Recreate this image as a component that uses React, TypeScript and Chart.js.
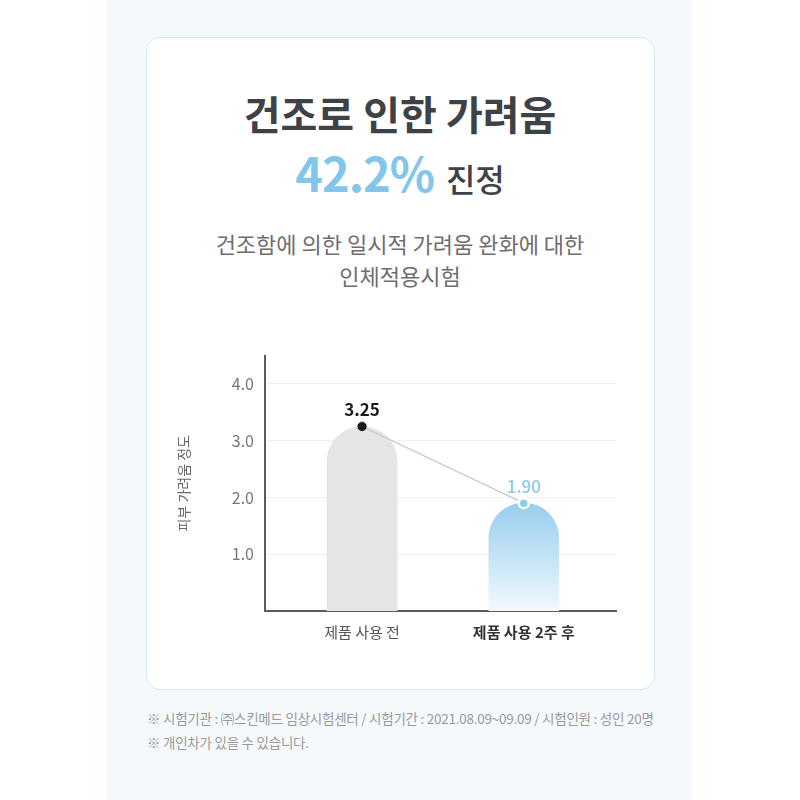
import React, { useEffect, useRef } from "react";
import { Chart, registerables } from "chart.js";

Chart.register(...registerables);

const categories = ["제품 사용 전", "제품 사용 2주 후"];
const scores = [3.25, 1.9];
const scoreLabels = ["3.25", "1.90"];
const yTicks = [1, 2, 3, 4];
const yTitle = "피부 가려움 정도";

const FONT = "'Noto Sans CJK KR', 'Noto Sans', sans-serif";

const labelPlugin = {
  id: "pointLabels",
  afterDatasetsDraw(chart: any) {
    const meta = chart.getDatasetMeta(1);
    const c = chart.ctx;
    c.save();
    c.textAlign = "center";
    c.textBaseline = "middle";
    meta.data.forEach((pt: any, i: number) => {
      c.font = `${i === 0 ? 700 : 500} 17px ${FONT}`;
      c.fillStyle = i === 0 ? "#1b1b1b" : "#8ccaea";
      c.fillText(scoreLabels[i], pt.x, pt.y - 17);
    });
    c.restore();
  },
};

function ChartBox() {
  const ref = useRef<HTMLCanvasElement | null>(null);
  useEffect(() => {
    if (!ref.current) return;
    const points = scores.map((v, i) => ({ x: i, y: v }));
    const chart = new Chart(ref.current, {
      data: {
        datasets: [
          {
            type: "bar",
            data: points,
            order: 2,
            barThickness: 70,
            borderWidth: 0,
            borderRadius: { topLeft: 35, topRight: 35, bottomLeft: 0, bottomRight: 0 },
            borderSkipped: "start",
            backgroundColor: (ctx: any) => {
              if (ctx.dataIndex === 0) return "#e5e5e3";
              const ch = ctx.chart;
              const area = ch.chartArea;
              if (!area) return "#b5dcf2";
              const top = ch.scales.y.getPixelForValue(scores[1]);
              const g = ch.ctx.createLinearGradient(0, top, 0, area.bottom);
              g.addColorStop(0, "#98cdee");
              g.addColorStop(1, "#f2f9fd");
              return g;
            },
          } as any,
          {
            type: "line",
            data: points,
            order: 1,
            borderColor: "#c8c8c8",
            borderWidth: 1.2,
            pointRadius: [5, 5],
            pointBackgroundColor: ["#1a1a1a", "#8fcbec"],
            pointBorderColor: ["#dddddd", "#ffffff"],
            pointBorderWidth: [1, 2.5],
          } as any,
        ],
      },
      options: {
        animation: false,
        responsive: false,
        maintainAspectRatio: false,
        layout: { padding: { top: 5, right: 34, left: 0, bottom: 0 } },
        plugins: { legend: { display: false }, tooltip: { enabled: false } },
        scales: {
          x: {
            type: "linear",
            offset: false,
            min: -0.6,
            max: 1.57,
            afterBuildTicks: (s: any) => {
              s.ticks = categories.map((_, i) => ({ value: i }));
            },
            afterFit: (s: any) => {
              s.height = 39;
            },
            grid: { display: false, drawTicks: false },
            border: { display: true, color: "#5c5c5c", width: 2 },
            ticks: {
              padding: 12,
              autoSkip: false,
              maxRotation: 0,
              callback: (v: any) => categories[v as number] ?? "",
              color: (ctx: any) => (ctx.index === 1 ? "#333333" : "#555555"),
              font: (ctx: any) => ({
                family: FONT,
                size: 15,
                weight: ctx.index === 1 ? "bold" : "normal",
              }),
            },
          },
          y: {
            min: 0,
            max: 4.5,
            afterBuildTicks: (s: any) => {
              s.ticks = yTicks.map((v) => ({ value: v }));
            },
            afterFit: (s: any) => {
              s.width = 115;
            },
            grid: { color: "#f1f1f1", drawTicks: false, lineWidth: 1 },
            border: { display: true, color: "#5c5c5c", width: 2 },
            ticks: {
              padding: 11,
              color: "#777777",
              font: { family: FONT, size: 16 },
              callback: (v: any) => Number(v).toFixed(1),
            },
            title: {
              display: true,
              text: yTitle,
              color: "#666666",
              font: { family: FONT, size: 14 },
              padding: { top: 25, bottom: 0 },
            },
          },
        },
      },
      plugins: [labelPlugin],
    } as any);
    return () => chart.destroy();
  }, []);
  return (
    <canvas
      ref={ref}
      width={500}
      height={315}
      style={{ position: "absolute", left: 150, top: 335, width: 500, height: 315 }}
    />
  );
}

export default function App() {
  const abs = (top: number, lh: number, extra: any = {}) => ({
    position: "absolute" as const,
    left: 0,
    width: 800,
    top,
    lineHeight: `${lh}px`,
    textAlign: "center" as const,
    fontFamily: FONT,
    ...extra,
  });
  return (
    <div
      style={{
        position: "fixed",
        left: 0,
        top: 0,
        width: 800,
        height: 800,
        background: "#ffffff",
        overflow: "hidden",
        fontFamily: FONT,
      }}
    >
      <div style={{ position: "absolute", left: 107, top: 0, width: 585, height: 800, background: "#f5f9fc" }} />
      <div
        style={{
          position: "absolute",
          left: 146,
          top: 37,
          width: 507,
          height: 651,
          background: "#ffffff",
          border: "1px solid #d6e8f2",
          borderRadius: 14,
        }}
      />
      <div style={abs(88, 50, { fontSize: 40, fontWeight: 700, color: "#3e4145" })}>건조로 인한 가려움</div>
      <div style={abs(144, 56, { color: "#3e4145" })}>
        <span style={{ fontSize: 47, fontWeight: 700, color: "#82c6ec", letterSpacing: -1 }}>42.2%</span>
        <span style={{ fontSize: 32, fontWeight: 500, marginLeft: 12 }}>진정</span>
      </div>
      <div style={abs(227, 32, { fontSize: 22, fontWeight: 400, color: "#6e6e6e" })}>
        건조함에 의한 일시적 가려움 완화에 대한
        <br />
        인체적용시험
      </div>
      <ChartBox />
      <div
        style={{
          position: "absolute",
          left: 147,
          top: 706,
          lineHeight: "24px",
          fontSize: 13.5,
          color: "#9a9a9a",
          fontFamily: FONT,
          whiteSpace: "nowrap",
          letterSpacing: -0.25,
        }}
      >
        ※ 시험기관 : ㈜스킨메드 임상시험센터 / 시험기간 : 2021.08.09~09.09 / 시험인원 : 성인 20명
        <br />※ 개인차가 있을 수 있습니다.
      </div>
    </div>
  );
}
